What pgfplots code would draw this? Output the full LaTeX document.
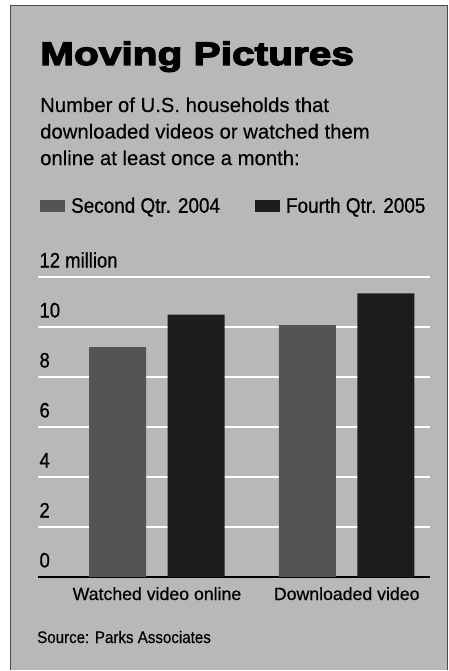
\documentclass[border=0pt]{standalone}
\usepackage{pgfplots}
\pgfplotsset{compat=1.18}
\usepackage{fontspec}
\setmainfont{Liberation Sans}[FakeBold=0.3]
\newfontfamily\condfont[FakeStretch=0.88,FakeBold=0.7]{Liberation Sans}
\newfontfamily\legfont[FakeStretch=0.9,FakeBold=0.7]{Liberation Sans}
\newfontfamily\catfont[FakeBold=0.6]{Liberation Sans}
\newfontfamily\srcfont[FakeStretch=0.9,FakeBold=0.5]{Liberation Sans}
\newfontfamily\titlefont[BoldFeatures={FakeStretch=1.25,FakeBold=4}]{Liberation Sans}
\definecolor{bg}{RGB}{184,184,184}
\definecolor{barA}{RGB}{84,84,84}
\definecolor{barB}{RGB}{28,28,28}
\pgfplotstableread{
cat q2004 q2005
0 9.2 10.5
1 10.08 11.35
}\datatable
\begin{document}
\begin{tikzpicture}
\fill[white] (0pt,0pt) rectangle (449pt,-671pt);
\fill[bg] (10pt,-5pt) rectangle (447pt,-670pt);
\draw[black!70, line width=0.6pt] (10pt,-670pt) -- (10pt,-5pt) -- (447pt,-5pt) -- (447pt,-670pt);
\node[anchor=base west, inner sep=0pt] at (40pt,-65pt) {\fontsize{32.5}{36}\titlefont\bfseries Moving Pictures};
\node[anchor=base west, inner sep=0pt] at (40pt,-112pt) {\fontsize{20.3}{24}\selectfont Number of U.S. households that};
\node[anchor=base west, inner sep=0pt] at (40pt,-138.5pt) {\fontsize{20.3}{24}\selectfont downloaded videos or watched them};
\node[anchor=base west, inner sep=0pt] at (40pt,-165pt) {\fontsize{20.3}{24}\selectfont online at least once a month:};
\node[anchor=base west, inner sep=0pt] at (37pt,-643pt) {\fontsize{16.8}{20}\srcfont Source: Parks Associates};
\begin{axis}[
  at={(38pt,-577pt)}, anchor=south west,
  scale only axis, width=392pt, height=300pt,
  ybar, bar width=57pt,
  legend image code/.code={\fill[#1] (0pt,-6pt) rectangle (25pt,6pt);},
  xmin=-0.627, xmax=1.439, ymin=0, ymax=12,
  xtick={0,1}, xticklabels={Watched video online, Downloaded video},
  ytick={0,2,4,6,8,10,12}, yticklabels={0,2,4,6,8,10,12 million},
  ymajorgrids, major grid style={white, line width=1.8pt},
  axis x line*=bottom, axis y line*=left,
  x axis line style={draw=black, line width=1.1pt, -},
  y axis line style={draw=none},
  major tick length=0pt,
  tick style={draw=none},
  yticklabel style={font=\fontsize{21}{24}\condfont, anchor=base west, xshift=-2pt, yshift=9.5pt},
  xticklabel style={font=\fontsize{17.7}{20}\catfont, anchor=base, yshift=-23pt},
  legend columns=2,
  legend style={at={(0.005,1.237)}, anchor=west, draw=none, fill=none, inner sep=0pt,
    font=\fontsize{21}{24}\legfont,
    /tikz/every odd column/.append style={column sep=4pt},
    /tikz/every even column/.append style={column sep=33pt}},
  legend cell align=left,
]
\addplot[fill=barA, draw=none, bar shift=-39.25pt] table[x=cat, y=q2004] {\datatable};
\addplot[fill=barB, draw=none, bar shift=39.25pt] table[x=cat, y=q2005] {\datatable};
\legend{Second Qtr. 2004, Fourth Qtr. 2005}
\end{axis}
\end{tikzpicture}
\end{document}
